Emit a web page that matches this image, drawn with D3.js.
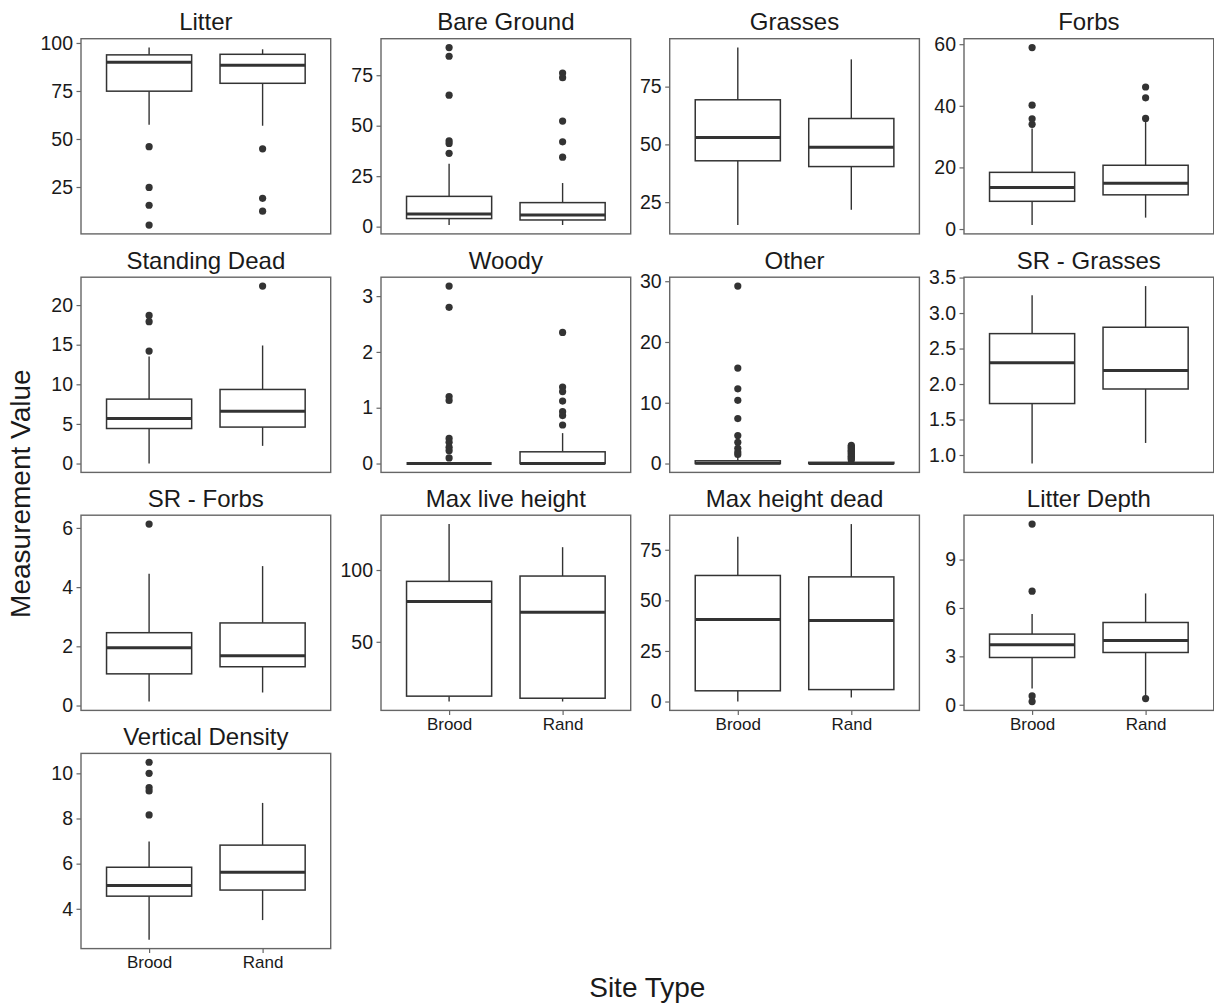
<!DOCTYPE html>
<html>
<head>
<meta charset="utf-8">
<script src="https://cdn.jsdelivr.net/npm/d3@7"></script>
<style>
  html, body { margin: 0; padding: 0; background: #fff; }
  svg { display: block; font-family: "Liberation Sans", Arial, sans-serif; }
</style>
</head>
<body>
<svg id="chart" width="1214" height="1006"></svg>
<script>
// Habitat measurements at brood and random sites, one boxplot panel per variable.
const facets = ["Litter", "Bare Ground", "Grasses", "Forbs",
                "Standing Dead", "Woody", "Other", "SR - Grasses",
                "SR - Forbs", "Max live height", "Max height dead", "Litter Depth",
                "Vertical Density"];
const siteTypes = ["Brood", "Rand"];

// [lower whisker, Q1, median, Q3, upper whisker]
const broodStats = [
  [57.4, 74.9, 90.0, 93.8, 97.6],
  [0.8, 4.0, 6.3, 15.0, 31.2],
  [15.1, 42.9, 53.0, 69.3, 91.9],
  [1.3, 9.0, 13.5, 18.4, 32.6],
  [0.0, 4.42, 5.68, 8.13, 13.5],
  [0, 0, 0, 0, 0],
  [0, 0, 0.05, 0.45, 1.1],
  [0.88, 1.725, 2.30, 2.71, 3.25],
  [0.135, 1.07, 1.95, 2.46, 4.45],
  [8.4, 12.15, 78.0, 92.1, 132],
  [0, 5.3, 40.6, 62.3, 81.4],
  [1.01, 2.93, 3.72, 4.38, 5.62],
  [2.63, 4.56, 5.03, 5.84, 6.98]
];
const randStats = [
  [56.9, 79.0, 88.4, 94.1, 96.7],
  [0.8, 3.3, 5.8, 11.9, 21.6],
  [21.7, 40.4, 48.8, 61.2, 86.8],
  [3.7, 11.1, 14.9, 20.7, 34.9],
  [2.23, 4.6, 6.6, 9.35, 14.9],
  [0, 0, 0, 0.21, 0.545],
  [0, 0, 0.02, 0.2, 0.45],
  [1.17, 1.93, 2.19, 2.80, 3.38],
  [0.44, 1.31, 1.68, 2.79, 4.71],
  [8.4, 10.7, 70.6, 95.8, 115.9],
  [2.0, 5.9, 40.1, 61.6, 87.7],
  [0.55, 3.24, 3.98, 5.1, 6.9],
  [3.5, 4.83, 5.62, 6.82, 8.69]
];

const broodOutliers = [
  [46.0, 24.8, 15.5, 5.2],
  [88.7, 84.4, 65.1, 42.5, 41.2, 36.3],
  [],
  [34.0, 35.8, 40.2, 58.9],
  [18.7, 17.9, 14.2],
  [3.18, 2.80, 1.20, 1.13, 0.45, 0.38, 0.29, 0.23, 0.10],
  [29.2, 15.7, 12.3, 10.4, 7.4, 4.6, 3.5, 2.5, 1.9, 1.5],
  [],
  [6.13],
  [],
  [],
  [11.2, 7.04, 0.55, 0.2],
  [10.49, 10.0, 9.37, 9.22, 8.16]
];
const randOutliers = [
  [44.9, 19.1, 12.4],
  [76.1, 73.8, 52.3, 42.0, 34.4],
  [],
  [35.9, 42.6, 46.1],
  [22.4],
  [2.35, 1.37, 1.29, 1.12, 0.93, 0.86, 0.69],
  [3.0, 2.8, 2.6, 2.4, 2.2, 2.0, 1.8, 1.6, 1.4, 1.2, 1.0, 0.8, 0.6],
  [],
  [],
  [],
  [],
  [0.38],
  []
];

const yTicks = [
  [25, 50, 75, 100],
  [0, 25, 50, 75],
  [25, 50, 75],
  [0, 20, 40, 60],
  [0, 5, 10, 15, 20],
  [0, 1, 2, 3],
  [0, 10, 20, 30],
  [1.0, 1.5, 2.0, 2.5, 3.0, 3.5],
  [0, 2, 4, 6],
  [50, 100],
  [0, 25, 50, 75],
  [0, 3, 6, 9],
  [4, 6, 8, 10]
];
const tickFormats = facets.map((f, i) => i === 7 ? d3.format(".1f") : d3.format("d"));

// Grid geometry
const colLeft = [81, 381, 669.7, 964];
const rowTop = [38.7, 277.2, 515.2, 753.4];
const panelW = 249.7, panelH = 195.2;
const ncol = 4;
const ink = "#333333";
const frame = "#666666";
const textInk = "#1a1a1a";

const svg = d3.select("#chart");

facets.forEach((name, i) => {
  const col = i % ncol, row = Math.floor(i / ncol);
  const g = svg.append("g").attr("transform", `translate(${colLeft[col]},${rowTop[row]})`);

  const groups = [
    { site: siteTypes[0], s: broodStats[i], out: broodOutliers[i] },
    { site: siteTypes[1], s: randStats[i], out: randOutliers[i] }
  ];
  const all = groups.flatMap(d => d.s.concat(d.out));
  const lo = d3.min(all), hi = d3.max(all), pad = (hi - lo) * 0.05;

  const y = d3.scaleLinear().domain([lo - pad, hi + pad]).range([panelH, 0]);
  // discrete positions with a 0.6 expansion on each side
  const unit = panelW / 2.2;
  const x = d3.scalePoint().domain(siteTypes).range([unit * 0.6, unit * 1.6]);
  const boxW = unit * 0.75;

  // Panel title
  g.append("text")
    .attr("x", panelW / 2).attr("y", -8.5)
    .attr("text-anchor", "middle")
    .attr("font-size", 24).attr("fill", textInk)
    .text(name);

  // y axis
  const yAxis = d3.axisLeft(y).tickValues(yTicks[i]).tickFormat(tickFormats[i]).tickSize(4.5).tickPadding(3.5);
  const ya = g.append("g").call(yAxis);
  ya.select(".domain").remove();
  ya.selectAll(".tick line").attr("stroke", frame).attr("stroke-width", 1.2);
  ya.selectAll(".tick text").attr("font-size", 19.5).attr("fill", textInk)
    .attr("font-family", "Liberation Sans, Arial, sans-serif");

  // x axis only on the lowest panel of each column
  const bottomOfCol = (i + ncol >= facets.length);
  if (bottomOfCol) {
    const xa = g.append("g").attr("transform", `translate(0,${panelH})`)
      .call(d3.axisBottom(x).tickSize(4.5).tickPadding(3));
    xa.select(".domain").remove();
    xa.selectAll(".tick line").attr("stroke", frame).attr("stroke-width", 1.2);
    xa.selectAll(".tick text").attr("font-size", 17).attr("fill", textInk)
      .attr("font-family", "Liberation Sans, Arial, sans-serif");
  }

  // Boxplots
  groups.forEach(d => {
    const c = x(d.site);
    const [wl, q1, med, q3, wh] = d.s;
    const bg = g.append("g");
    bg.append("line").attr("x1", c).attr("x2", c).attr("y1", y(q3)).attr("y2", y(wh))
      .attr("stroke", ink).attr("stroke-width", 1.4);
    bg.append("line").attr("x1", c).attr("x2", c).attr("y1", y(q1)).attr("y2", y(wl))
      .attr("stroke", ink).attr("stroke-width", 1.4);
    bg.append("rect").attr("x", c - boxW / 2).attr("width", boxW)
      .attr("y", y(q3)).attr("height", Math.max(0, y(q1) - y(q3)))
      .attr("fill", "#fff").attr("stroke", ink).attr("stroke-width", 1.5);
    bg.append("line").attr("x1", c - boxW / 2).attr("x2", c + boxW / 2)
      .attr("y1", y(med)).attr("y2", y(med))
      .attr("stroke", ink).attr("stroke-width", 3);
    bg.selectAll("circle").data(d.out).join("circle")
      .attr("cx", c).attr("cy", v => y(v)).attr("r", 3.6)
      .attr("fill", ink);
  });

  // Panel border
  g.append("rect").attr("x", 0).attr("y", 0).attr("width", panelW).attr("height", panelH)
    .attr("fill", "none").attr("stroke", frame).attr("stroke-width", 1.4);
});

// Shared axis titles
svg.append("text")
  .attr("transform", `translate(30,${(rowTop[0] + rowTop[3] + panelH) / 2}) rotate(-90)`)
  .attr("text-anchor", "middle").attr("font-size", 28).attr("fill", textInk)
  .text("Measurement Value");
svg.append("text")
  .attr("x", (colLeft[0] + colLeft[3] + panelW) / 2).attr("y", 997)
  .attr("text-anchor", "middle").attr("font-size", 28).attr("fill", textInk)
  .text("Site Type");
</script>
</body>
</html>
